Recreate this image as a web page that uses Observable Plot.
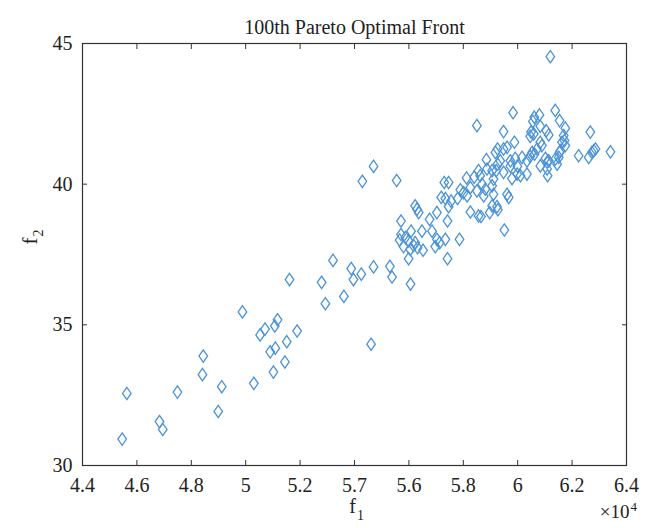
<!DOCTYPE html>
<html>
<head>
<meta charset="utf-8">
<script src="https://cdn.jsdelivr.net/npm/d3@7"></script>
<script src="https://cdn.jsdelivr.net/npm/@observablehq/plot@0.6"></script>
<style>
  html, body { margin: 0; padding: 0; background: #fff; }
  #chart svg { display: block; }
</style>
</head>
<body>
<div id="chart"></div>
<script>
// f1 values in units of 10^4
const f1 = [
  4.546, 4.563, 4.683, 4.695, 4.749, 4.844, 4.841, 4.912, 4.899, 4.988,
  5.030, 5.053, 5.071, 5.107, 5.117, 5.090, 5.109, 5.102, 5.144, 5.151,
  5.189, 5.161, 5.279, 5.293, 5.321, 5.361, 5.388, 5.396, 5.425, 5.470,
  5.461, 5.530, 5.538, 5.606, 5.429, 5.470, 5.555, 5.730, 5.746, 5.812,
  5.840, 5.856, 5.862, 5.826, 5.850, 5.719, 5.734, 5.755, 5.746, 5.779,
  5.801, 5.623, 5.630, 5.636, 5.703, 5.676, 5.826, 5.856, 5.571, 5.742,
  5.608, 5.648, 5.685, 5.571, 5.566, 5.587, 5.580, 5.599, 5.617, 5.623,
  5.632, 5.605, 5.652, 5.599, 5.703, 5.697, 5.713, 5.734, 5.786, 5.742,
  5.951, 5.865, 5.897, 5.906, 5.924, 5.927, 5.983, 5.850, 5.948, 6.061,
  6.080, 6.056, 6.083, 6.049, 6.046, 6.059, 6.105, 6.114, 6.138, 6.154,
  5.988, 5.961, 5.948, 5.926, 5.918, 6.089, 6.053, 6.046, 6.016, 6.034,
  5.991, 6.102, 6.114, 6.138, 6.145, 6.154, 5.885, 5.936, 5.926, 5.973,
  5.948, 5.887, 5.906, 6.083, 6.108, 6.110, 5.998, 6.010, 5.979, 6.034,
  5.911, 5.921, 5.869, 5.906, 5.881, 5.875, 5.911, 5.789, 5.814, 5.961,
  5.967, 6.175, 6.169, 6.172, 6.163, 6.175, 6.157, 6.151, 6.267, 6.224,
  6.261, 6.273, 6.286, 6.280, 6.341, 6.083, 6.108, 6.120, 5.999, 5.973,
  6.071, 6.062
];
const f2 = [
  30.94, 32.56, 31.56, 31.28, 32.61, 33.89, 33.23, 32.80, 31.92, 35.46,
  32.92, 34.64, 34.85, 34.96, 35.18, 34.04, 34.17, 33.32, 33.68, 34.40,
  34.78, 36.61, 36.51, 35.75, 37.29, 36.01, 37.00, 36.61, 36.80, 37.06,
  34.31, 37.08, 36.70, 36.45, 40.10, 40.63, 40.13, 40.06, 40.06, 40.22,
  40.25, 40.48, 40.30, 39.88, 39.76, 39.53, 39.49, 39.40, 39.20, 39.49,
  39.70, 39.23, 39.11, 38.99, 38.99, 38.75, 39.01, 38.87, 38.69, 38.69,
  38.33, 38.33, 38.33, 38.21, 38.01, 38.10, 37.78, 37.98, 37.82, 37.92,
  37.74, 37.68, 37.65, 37.35, 38.04, 37.78, 37.92, 38.04, 38.04, 37.35,
  38.37, 38.85, 38.99, 39.23, 39.20, 39.09, 42.54, 42.08, 41.87, 42.38,
  42.46, 42.23, 42.06, 41.85, 41.70, 41.79, 41.90, 41.75, 42.62, 42.26,
  41.49, 41.31, 41.25, 41.25, 41.13, 41.37, 41.13, 40.99, 40.95, 40.83,
  40.92, 40.92, 40.83, 40.89, 40.71, 41.13, 40.87, 40.83, 40.71, 40.83,
  40.42, 40.54, 40.48, 40.65, 40.54, 40.30, 40.36, 40.30, 40.20, 40.36,
  40.18, 40.48, 40.00, 39.94, 39.82, 39.58, 39.64, 39.80, 39.58, 39.64,
  39.53, 41.99, 41.73, 41.55, 41.49, 41.37, 41.19, 40.95, 41.85, 41.01,
  40.95, 41.13, 41.25, 41.19, 41.15, 41.49, 40.78, 44.53, 40.64, 40.64,
  41.25, 41.07
];

const xTicks = [4.4, 4.6, 4.8, 5.0, 5.2, 5.4, 5.6, 5.8, 6.0, 6.2, 6.4];
const xTickLabels = ["4.4", "4.6", "4.8", "5", "5.2", "5.7", "5.6", "5.8", "6", "6.2", "6.4"];
const yTicks = [30, 35, 40, 45];
const yTickLabels = ["30", "35", "40", "45"];

const titleText = "100th Pareto Optimal Front";
const xLabel = ["f", "1"];
const yLabel = ["f", "2"];
const exponentText = ["\u00d710", "4"];

const data = f1.map((v, i) => ({f1: v, f2: f2[i]}));
const xLabelOf = new Map(xTicks.map((t, i) => [t, xTickLabels[i]]));
const yLabelOf = new Map(yTicks.map((t, i) => [t, yTickLabels[i]]));

const diamond = {
  draw(ctx) {
    const w = 4.3, h = 6.2;
    ctx.moveTo(0, -h);
    ctx.lineTo(w, 0);
    ctx.lineTo(0, h);
    ctx.lineTo(-w, 0);
    ctx.closePath();
  }
};

const serif = "Liberation Serif, DejaVu Serif, serif";
const axisColor = "#333";

const chart = Plot.plot({
  width: 653,
  height: 528,
  marginLeft: 82,
  marginRight: 27,
  marginTop: 43,
  marginBottom: 63,
  style: {fontFamily: serif, fontSize: "20px", color: "#222", background: "#fff"},
  x: {domain: [4.4, 6.4]},
  y: {domain: [30, 45]},
  marks: [
    Plot.frame({stroke: axisColor, strokeWidth: 1.2}),
    // inward tick marks on all four sides
    Plot.axisX(xTicks, {anchor: "bottom", tickSize: -5, tickFormat: () => "", stroke: axisColor, label: null}),
    Plot.axisX(xTicks, {anchor: "top", tickSize: -5, tickFormat: () => "", stroke: axisColor, label: null}),
    Plot.axisY(yTicks, {anchor: "left", tickSize: -5, tickFormat: () => "", stroke: axisColor, label: null}),
    Plot.axisY(yTicks, {anchor: "right", tickSize: -5, tickFormat: () => "", stroke: axisColor, label: null}),
    // tick labels
    Plot.axisX(xTicks, {anchor: "bottom", tickSize: 0, tickPadding: 12, tickFormat: d => xLabelOf.get(d), fontSize: 20, fill: "#222", label: null}),
    Plot.axisY(yTicks, {anchor: "left", tickSize: 0, tickPadding: 10, tickFormat: d => yLabelOf.get(d), fontSize: 20, fill: "#222", label: null}),
    // data
    Plot.dot(data, {x: "f1", y: "f2", symbol: diamond, stroke: "#4a93d6", strokeWidth: 1.3, fill: "none"}),
    // title
    Plot.text([titleText], {frameAnchor: "top", dy: -24, fontSize: 20, fill: "#222"}),
    // x label f_1
    Plot.text([xLabel[0]], {frameAnchor: "bottom", dy: 47, dx: -2, fontSize: 20, fill: "#222"}),
    Plot.text([xLabel[1]], {frameAnchor: "bottom", dy: 54, dx: 6, fontSize: 14, fill: "#222"}),
    // y label f_2
    Plot.text([yLabel[0]], {frameAnchor: "left", dx: -52, dy: -10, rotate: -90, fontSize: 21, fill: "#222"}),
    Plot.text([yLabel[1]], {frameAnchor: "left", dx: -44, dy: -18, rotate: -90, fontSize: 14, fill: "#222"}),
    // exponent
    Plot.text([exponentText[0]], {frameAnchor: "bottom-right", dx: 3, dy: 52, textAnchor: "end", fontSize: 19, fill: "#222"}),
    Plot.text([exponentText[1]], {frameAnchor: "bottom-right", dx: 4, dy: 45, textAnchor: "start", fontSize: 13, fill: "#222"})
  ]
});
document.getElementById("chart").append(chart);
</script>
</body>
</html>
